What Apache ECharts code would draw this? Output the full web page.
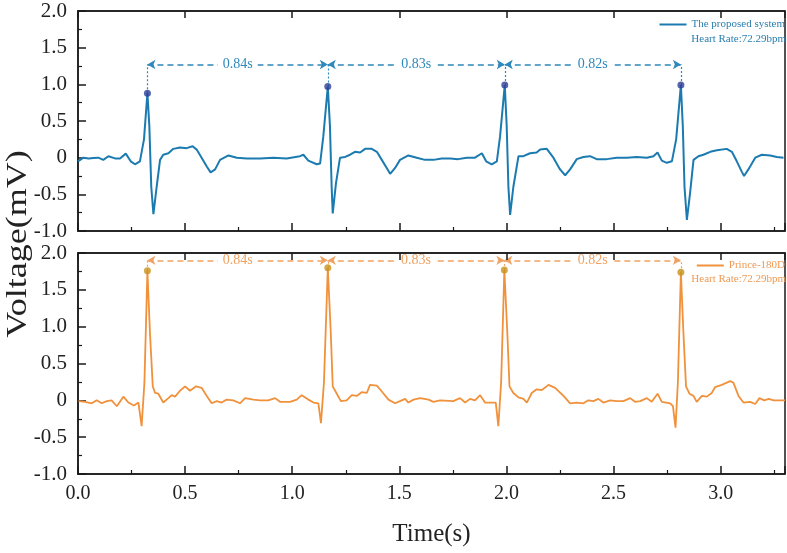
<!DOCTYPE html>
<html><head><meta charset="utf-8">
<script src="https://cdn.jsdelivr.net/npm/echarts@6/dist/echarts.min.js"></script>
<style>html,body{margin:0;padding:0;background:#fff}#c{width:787px;height:553px}</style>
</head><body><div id="c"></div>
<script>
// ---- data (time s, voltage mV) ----
const proposedSignal = [[0.00,-0.05],[0.025,0.0],[0.05,-0.01],[0.072,-0.005],[0.095,0.0],[0.118,-0.03],[0.142,0.02],[0.173,-0.01],[0.196,-0.01],[0.223,0.055],[0.246,-0.05],[0.266,-0.09],[0.289,-0.05],[0.308,0.25],[0.324,0.88],[0.333,0.43],[0.342,-0.40],[0.352,-0.77],[0.367,-0.40],[0.383,-0.03],[0.398,0.04],[0.422,0.06],[0.445,0.12],[0.476,0.14],[0.507,0.13],[0.535,0.155],[0.554,0.11],[0.577,0.0],[0.601,-0.12],[0.619,-0.20],[0.640,-0.16],[0.663,-0.03],[0.702,0.03],[0.741,0.0],[0.788,-0.01],[0.85,-0.01],[0.912,0.0],[0.974,-0.01],[1.036,0.02],[1.052,0.04],[1.075,-0.04],[1.114,-0.09],[1.130,-0.08],[1.145,0.29],[1.166,0.97],[1.176,0.43],[1.184,-0.40],[1.189,-0.76],[1.204,-0.35],[1.223,0.0],[1.247,0.01],[1.270,0.04],[1.293,0.08],[1.317,0.07],[1.340,0.12],[1.371,0.12],[1.395,0.08],[1.418,-0.03],[1.441,-0.14],[1.457,-0.22],[1.480,-0.14],[1.503,-0.03],[1.542,0.03],[1.581,0.0],[1.620,-0.03],[1.659,-0.03],[1.698,-0.01],[1.737,-0.01],[1.775,-0.02],[1.814,0.0],[1.853,0.0],[1.885,0.06],[1.905,-0.05],[1.931,-0.09],[1.955,-0.05],[1.970,0.29],[1.992,0.99],[2.001,0.43],[2.009,-0.40],[2.017,-0.78],[2.032,-0.40],[2.056,0.02],[2.079,0.02],[2.110,0.06],[2.141,0.07],[2.157,0.11],[2.188,0.12],[2.219,0.0],[2.250,-0.16],[2.274,-0.24],[2.297,-0.16],[2.328,-0.02],[2.359,0.01],[2.390,0.02],[2.421,-0.02],[2.468,-0.02],[2.515,0.0],[2.562,0.0],[2.608,0.01],[2.655,0.0],[2.686,0.02],[2.705,0.07],[2.725,-0.04],[2.748,-0.07],[2.772,-0.05],[2.792,0.25],[2.814,0.99],[2.823,0.43],[2.831,-0.40],[2.842,-0.85],[2.857,-0.48],[2.873,-0.03],[2.896,0.02],[2.919,0.04],[2.951,0.08],[2.982,0.10],[3.028,0.12],[3.052,0.08],[3.075,-0.05],[3.098,-0.19],[3.109,-0.25],[3.129,-0.16],[3.161,0.0],[3.192,0.04],[3.231,0.03],[3.262,0.01],[3.293,0.0]];

const princeSignal = [[0.002,-0.01],[0.033,-0.02],[0.064,-0.04],[0.087,0.0],[0.111,-0.04],[0.134,-0.01],[0.157,0.0],[0.181,-0.08],[0.212,0.05],[0.235,-0.03],[0.261,-0.07],[0.282,-0.03],[0.297,-0.35],[0.310,0.24],[0.324,1.76],[0.336,0.91],[0.349,0.19],[0.360,0.10],[0.375,0.09],[0.398,-0.03],[0.422,0.03],[0.437,0.07],[0.453,0.05],[0.476,0.13],[0.500,0.19],[0.523,0.13],[0.551,0.19],[0.577,0.17],[0.601,0.06],[0.624,-0.04],[0.648,-0.01],[0.671,-0.03],[0.694,0.01],[0.725,0.0],[0.756,-0.04],[0.780,0.03],[0.819,0.01],[0.850,0.0],[0.888,0.0],[0.920,0.03],[0.943,-0.02],[0.990,-0.02],[1.021,0.01],[1.044,0.07],[1.075,0.01],[1.099,-0.03],[1.122,-0.04],[1.134,-0.31],[1.148,0.24],[1.166,1.80],[1.180,0.91],[1.189,0.19],[1.208,0.09],[1.227,-0.01],[1.254,0.0],[1.278,0.07],[1.301,0.06],[1.324,0.11],[1.348,0.10],[1.363,0.21],[1.395,0.20],[1.418,0.12],[1.449,0.01],[1.480,-0.04],[1.503,-0.01],[1.527,0.02],[1.542,-0.03],[1.566,0.01],[1.597,0.03],[1.636,0.01],[1.659,-0.02],[1.690,0.0],[1.752,-0.01],[1.783,0.03],[1.807,-0.03],[1.830,0.02],[1.853,0.0],[1.877,0.07],[1.900,-0.03],[1.950,-0.03],[1.962,-0.35],[1.975,0.24],[1.990,1.77],[2.004,0.91],[2.014,0.19],[2.032,0.10],[2.056,0.04],[2.079,0.02],[2.095,-0.03],[2.118,0.10],[2.141,0.15],[2.165,0.14],[2.196,0.21],[2.227,0.17],[2.266,0.06],[2.297,-0.04],[2.328,-0.03],[2.359,-0.04],[2.382,0.0],[2.406,-0.01],[2.429,0.02],[2.452,-0.03],[2.484,0.0],[2.515,-0.01],[2.546,-0.01],[2.577,0.03],[2.600,-0.02],[2.624,-0.01],[2.655,0.03],[2.678,-0.02],[2.705,0.09],[2.725,-0.02],[2.764,-0.04],[2.777,-0.08],[2.789,-0.37],[2.800,0.24],[2.814,1.74],[2.826,0.91],[2.838,0.19],[2.854,0.09],[2.873,0.06],[2.888,-0.02],[2.912,0.06],[2.935,0.05],[2.958,0.10],[2.974,0.18],[3.005,0.21],[3.044,0.26],[3.059,0.24],[3.083,0.06],[3.106,-0.03],[3.137,-0.02],[3.161,-0.05],[3.181,0.03],[3.203,0.0],[3.224,0.02],[3.247,0.0],[3.278,0.0],[3.30,0.0]];

const peakTimesProposed = [0.324, 1.166, 1.992, 2.814];
const peakVoltsProposed = [0.88, 0.97, 0.99, 0.99];
const peakTimesPrince = [0.324, 1.166, 1.990, 2.814];
const peakVoltsPrince = [1.76, 1.80, 1.77, 1.74];
const intervalLabels = ['0.84s', '0.83s', '0.82s'];
const arrowLevelProposed = 1.27;
const arrowLevelPrince = 1.90;
const seriesNames = ['The proposed system', 'Prince-180D'];
const heartRateText = 'Heart Rate:72.29bpm';
const yTickValues = [-1, -0.5, 0, 0.5, 1, 1.5, 2];
const yTickLabels = ['-1.0', '-0.5', '0', '0.5', '1.0', '1.5', '2.0'];
const xTickValues = [0, 0.5, 1, 1.5, 2, 2.5, 3];
const xTickLabels = ['0.0', '0.5', '1.0', '1.5', '2.0', '2.5', '3.0'];

// ---- styling ----
const FONT = 'Liberation Serif';
const BLUE = '#1b7bb0', BLUE_ANN = '#2e88bb', BLUE_MK = '#2c3f97';
const ORANGE = '#f0913c', ORANGE_ANN = '#f0a262', ORANGE_MK = '#c8921c';

function yFmt(v) { const i = yTickValues.findIndex(t => Math.abs(t - v) < 1e-6); return i >= 0 ? yTickLabels[i] : ''; }
function xFmt(v) { const i = xTickValues.findIndex(t => Math.abs(t - v) < 1e-6); return i >= 0 ? xTickLabels[i] : ''; }

function intervalMarks(times, peaks, level, color) {
  const data = [];
  for (let i = 0; i < intervalLabels.length; i++) {
    data.push([
      { coord: [times[i], level], name: intervalLabels[i], symbol: 'arrow' },
      { coord: [times[i + 1], level], symbol: 'arrow' }
    ]);
  }
  for (let i = 0; i < times.length; i++) {
    data.push([
      { coord: [times[i], peaks[i]], symbol: 'none', label: { show: false }, lineStyle: { type: [2, 2], width: 1.2 } },
      { coord: [times[i], level], symbol: 'none' }
    ]);
  }
  return {
    silent: true, animation: false,
    symbol: ['arrow', 'arrow'], symbolSize: [7, 8],
    lineStyle: { color: color, type: [6, 4], width: 1.5 },
    label: { show: true, position: 'middle', distance: 0, verticalAlign: 'middle', align: 'center',
      formatter: '{b}', color: color, fontFamily: FONT, fontSize: 14, lineHeight: 12,
      backgroundColor: '#fff', padding: [0, 5] },
    emphasis: { disabled: true },
    data: data
  };
}

function xAxisPair(gridIndex, showLabels) {
  const base = { type: 'value', gridIndex, min: 0, max: 3.3, interval: 0.5, splitLine: { show: false } };
  return [
    Object.assign({}, base, {
      position: 'bottom',
      axisLine: { show: true, onZero: false, lineStyle: { color: '#1a1a1a', width: 1.5 } },
      axisTick: { show: true, inside: true, length: 8, lineStyle: { color: '#1a1a1a', width: 1.5 } },
      minorTick: { show: true, splitNumber: 2, length: 4, lineStyle: { color: '#1a1a1a', width: 1.2 } },
      axisLabel: { show: showLabels, formatter: xFmt, showMaxLabel: false, fontFamily: FONT, fontSize: 20, color: '#222', margin: 10 },
      name: showLabels ? 'Time(s)' : '', nameLocation: 'middle', nameGap: 48,
      nameTextStyle: { fontFamily: FONT, fontSize: 25, color: '#222' }
    }),
    Object.assign({}, base, {
      position: 'top', z: 10,
      axisLine: { show: true, onZero: false, lineStyle: { color: '#1a1a1a', width: 1.5 } },
      axisTick: { show: true, inside: true, length: 7, lineStyle: { color: '#1a1a1a', width: 1.5 } },
      axisLabel: { show: false }
    })
  ];
}

function yAxisCfg(gridIndex) {
  return {
    type: 'value', gridIndex, min: -1, max: 2, interval: 0.5,
    splitLine: { show: false },
    axisLine: { show: true, onZero: false, lineStyle: { color: '#1a1a1a', width: 1.5 } },
    axisTick: { show: true, inside: true, length: 8, lineStyle: { color: '#1a1a1a', width: 1.5 } },
    minorTick: { show: true, splitNumber: 2, length: 4, lineStyle: { color: '#1a1a1a', width: 1.2 } },
    axisLabel: { formatter: yFmt, fontFamily: FONT, fontSize: 21, color: '#222', margin: 11, showMinLabel: true, showMaxLabel: true }
  };
}

const chart = echarts.init(document.getElementById('c'), null, { renderer: 'canvas' });
chart.setOption({
  animation: false,
  backgroundColor: '#fff',
  grid: [
    { left: 78, right: 2, top: 11, height: 220, show: true, borderColor: '#1a1a1a', borderWidth: 1.5, backgroundColor: 'transparent' },
    { left: 78, right: 2, top: 253, height: 221, show: true, borderColor: '#1a1a1a', borderWidth: 1.5, backgroundColor: 'transparent' }
  ],
  xAxis: [...xAxisPair(0, false), ...xAxisPair(1, true)],
  yAxis: [yAxisCfg(0), yAxisCfg(1)],
  legend: [
    { data: [seriesNames[0]], right: 2, top: 19, padding: 0, itemWidth: 27, itemHeight: 2, icon: 'rect',
      textStyle: { fontFamily: FONT, fontSize: 11, color: '#2a7fae' } },
    { data: [seriesNames[1]], right: 2, top: 260, padding: 0, itemWidth: 27, itemHeight: 2, icon: 'rect',
      textStyle: { fontFamily: FONT, fontSize: 11, color: '#ee9a55' } }
  ],
  graphic: [
    { type: 'text', x: 18, y: 244, rotation: Math.PI / 2, scaleX: 1.2,
      style: { text: 'Voltage(mV)', x: 0, y: 0, align: 'center', verticalAlign: 'middle', fontFamily: FONT, fontSize: 30, fill: '#222' } },
    { type: 'text', x: 786, y: 39,
      style: { text: heartRateText, align: 'right', verticalAlign: 'middle', fontFamily: FONT, fontSize: 11, fill: '#2a7fae' } },
    { type: 'text', x: 786, y: 279,
      style: { text: heartRateText, align: 'right', verticalAlign: 'middle', fontFamily: FONT, fontSize: 11, fill: '#ee9a55' } }
  ],
  series: [
    { type: 'line', name: seriesNames[0], xAxisIndex: 0, yAxisIndex: 0, data: proposedSignal,
      showSymbol: false, symbol: 'none', smooth: false, color: BLUE, lineStyle: { color: BLUE, width: 2 },
      markLine: intervalMarks(peakTimesProposed, peakVoltsProposed, arrowLevelProposed, BLUE_ANN), z: 3 },
    { type: 'scatter', xAxisIndex: 0, yAxisIndex: 0, symbolSize: 7, itemStyle: { color: BLUE_MK }, z: 5,
      data: peakTimesProposed.map((t, i) => [t, peakVoltsProposed[i]]) },
    { type: 'line', name: seriesNames[1], xAxisIndex: 2, yAxisIndex: 1, data: princeSignal,
      showSymbol: false, symbol: 'none', smooth: false, color: ORANGE, lineStyle: { color: ORANGE, width: 1.8 },
      markLine: intervalMarks(peakTimesPrince, peakVoltsPrince, arrowLevelPrince, ORANGE_ANN), z: 3 },
    { type: 'scatter', xAxisIndex: 2, yAxisIndex: 1, symbolSize: 7, itemStyle: { color: ORANGE_MK }, z: 5,
      data: peakTimesPrince.map((t, i) => [t, peakVoltsPrince[i]]) }
  ]
});
</script></body></html>
